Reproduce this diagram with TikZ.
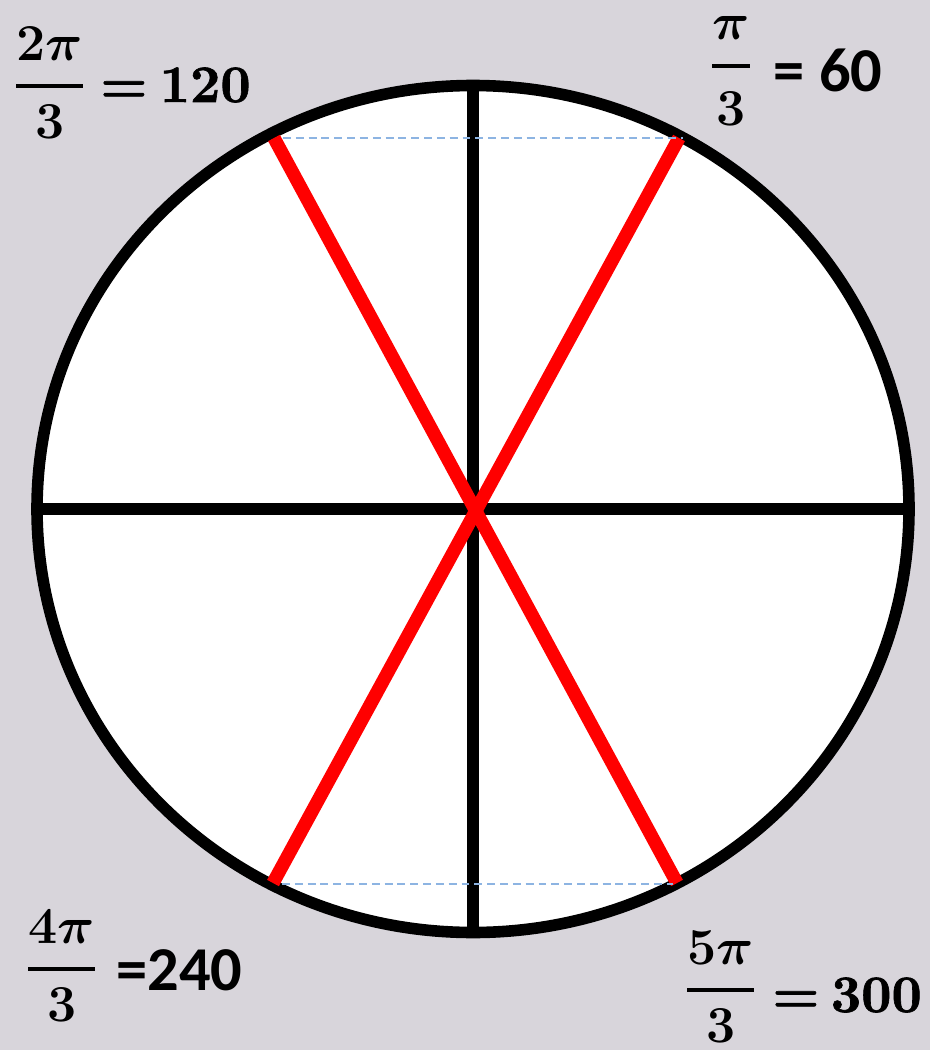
\RequirePackage{fix-cm}
\documentclass[tikz,border=0pt]{standalone}
\usepackage{fontspec}
\newfontfamily\calib{Carlito}
\newfontfamily\heavy{lmroman10-bold}[Extension=.otf, FakeBold=1.2]
\newcommand\myfr[2]{{\fontsize{29.5}{35}\selectfont\boldmath$\displaystyle{#1\above 2.3pt #2}$}}
\definecolor{bgc}{RGB}{216,213,219}
\definecolor{dashc}{RGB}{141,180,226}
\tikzset{
  ring/.style={line width=6.6pt, draw=black},
  axisline/.style={line width=6.6pt, draw=black},
  redline/.style={line width=7.6pt, draw=red, line cap=butt},
  guide/.style={line width=1.1pt, draw=dashc, dash pattern=on 4.5pt off 2.8pt},
  fraclbl/.style={inner sep=0pt, anchor=base west},
  serifval/.style={inner sep=0pt, anchor=base west, font=\heavy\fontsize{30}{36}\selectfont},
  sansval/.style={inner sep=0pt, anchor=base west, font=\calib\fontsize{35.5}{42}\selectfont\bfseries},
}
\begin{document}
\begin{tikzpicture}[x=0.02cm, y=-0.02cm]
\fill[bgc] (0,0) rectangle (930,1050);
\useasboundingbox (0,0) rectangle (930,1050);
% circle
\fill[white] (473,509) ellipse [x radius=436, y radius=423.5];
\coordinate (top) at (473,86);
\coordinate (bot) at (473,932);
\coordinate (lft) at (37,509);
\coordinate (rgt) at (909,509);
\draw[axisline] (top) -- (bot);
\draw[axisline] (lft) -- (rgt);
\draw[ring] (473,509) ellipse [x radius=436, y radius=423.5];
% red diameters
\coordinate (A) at (274,138);
\coordinate (B) at (679,138);
\coordinate (C) at (273,883);
\coordinate (D) at (677,883);
\draw[redline] (A) -- (D);
\draw[redline] (B) -- (C);
% dashed guides
\coordinate (g1) at (283,138);
\coordinate (g2) at (683,138);
\coordinate (g3) at (282,884);
\coordinate (g4) at (673,884);
\draw[guide] (g1) -- (g2);
\draw[guide] (g3) -- (g4);
% labels
\node[fraclbl] (f120) at (14,99) {\myfr{2\pi}{3}};
\node[serifval] (v120) at (100,102) {=\hspace{7pt}120};
\node[fraclbl] (f60) at (710,79) {\myfr{\pi\vrule width 0pt depth 7pt}{\vrule width 0pt height 26pt 3}};
\node[sansval] (v60) at (773,92) {=\hspace{8.5pt}60};
\node[fraclbl] (f240) at (26,982) {\myfr{4\pi}{3}};
\node[sansval] (v240) at (116,990) {=240};
\node[fraclbl] (f300) at (685,1003) {\myfr{5\pi}{3}};
\node[serifval] (v300) at (772,1012) {=\hspace{6.5pt}300};
\end{tikzpicture}
\end{document}
